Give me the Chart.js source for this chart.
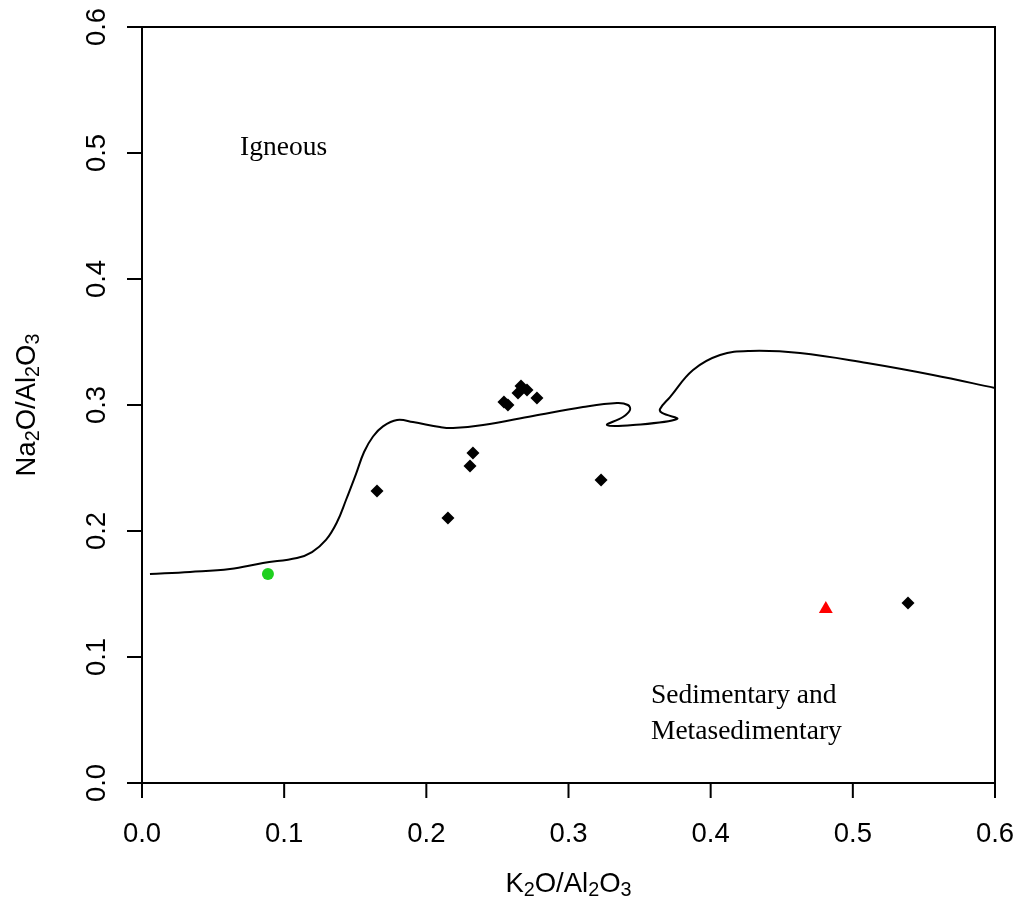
<!DOCTYPE html>
<html>
<head>
<meta charset="utf-8">
<script src="https://cdn.jsdelivr.net/npm/chart.js@4"></script>
<style>
  html, body { margin: 0; padding: 0; background: #fff; }
  #wrap { width: 1020px; height: 915px; }
</style>
</head>
<body>
<div id="wrap"><canvas id="chart" width="1020" height="915"></canvas></div>
<script>
// samples (black diamonds)
const sampleK = [0.2546, 0.2574, 0.2645, 0.2666, 0.2708, 0.2778, 0.2328, 0.2307, 0.2152, 0.1653, 0.3229, 0.5388];
const sampleNa = [0.3024, 0.3000, 0.3095, 0.3151, 0.3119, 0.3056, 0.2619, 0.2516, 0.2103, 0.2317, 0.2405, 0.1429];
// reference points
const triK = [0.481], triNa = [0.138];
const greenK = [0.0886], greenNa = [0.1659];

// boundary line between fields
const lineK = [0.0056, 0.0338, 0.0619, 0.0851, 0.1090, 0.1196, 0.1294, 0.1372, 0.1435, 0.1505, 0.1562, 0.1625,
  0.1695, 0.1794, 0.1906, 0.2096, 0.2188, 0.2399, 0.2750, 0.3102, 0.3341, 0.3418, 0.3432, 0.3383,
  0.3271, 0.3454, 0.3763, 0.3658, 0.3644, 0.3714, 0.3876, 0.4066, 0.4277, 0.4628, 0.5100, 0.5564, 0.6000];
const lineNa = [0.1659, 0.1675, 0.1698, 0.1746, 0.1786, 0.1833, 0.1929, 0.2071, 0.2246, 0.2452, 0.2627, 0.2750,
  0.2830, 0.2881, 0.2865, 0.2825, 0.2817, 0.2841, 0.2913, 0.2984, 0.3016, 0.3000, 0.2960, 0.2905,
  0.2841, 0.2841, 0.2889, 0.2937, 0.2968, 0.3063, 0.3278, 0.3397, 0.3429, 0.3413, 0.3333, 0.3238, 0.3135];

const tickVals = [0.0, 0.1, 0.2, 0.3, 0.4, 0.5, 0.6];
const tickLabels = ['0.0', '0.1', '0.2', '0.3', '0.4', '0.5', '0.6'];

const fieldLabels = [
  { text: 'Igneous', x: 0.069, y: 0.504 },
  { text: 'Sedimentary and', x: 0.358, y: 0.069 },
  { text: 'Metasedimentary', x: 0.358, y: 0.0405 }
];

const zip = (a, b) => a.map((v, i) => ({ x: v, y: b[i] }));

const SANS = '"Liberation Sans", Arial, sans-serif';
const SERIF = '"Liberation Serif", "Times New Roman", serif';

// draws a formula like K2O/Al2O3 with subscripts, returns width
function chemText(ctx, parts, x, y, size, measureOnly) {
  let w = 0;
  parts.forEach(p => {
    const sub = p[1];
    ctx.font = (sub ? size * 0.72 : size) + 'px ' + SANS;
    if (!measureOnly) ctx.fillText(p[0], x + w, y + (sub ? size * 0.25 : 0));
    w += ctx.measureText(p[0]).width;
  });
  return w;
}
const xTitle = [['K', 0], ['2', 1], ['O', 0], ['/', 0], ['Al', 0], ['2', 1], ['O', 0], ['3', 1]];
const yTitle = [['Na', 0], ['2', 1], ['O', 0], ['/', 0], ['Al', 0], ['2', 1], ['O', 0], ['3', 1]];

const decor = {
  id: 'decor',
  afterDraw(chart) {
    const ctx = chart.ctx;
    const a = chart.chartArea;
    const xs = chart.scales.x, ys = chart.scales.y;
    ctx.save();
    // box
    ctx.strokeStyle = '#000';
    ctx.lineWidth = 2;
    ctx.strokeRect(a.left, a.top, a.right - a.left, a.bottom - a.top);
    // tick marks
    ctx.beginPath();
    tickVals.forEach(v => {
      const px = xs.getPixelForValue(v);
      ctx.moveTo(px, a.bottom); ctx.lineTo(px, a.bottom + 15);
      const py = ys.getPixelForValue(v);
      ctx.moveTo(a.left, py); ctx.lineTo(a.left - 15, py);
    });
    ctx.stroke();
    // tick labels
    ctx.fillStyle = '#000';
    ctx.font = '27.5px ' + SANS;
    ctx.textAlign = 'center';
    ctx.textBaseline = 'middle';
    tickVals.forEach((v, i) => {
      ctx.fillText(tickLabels[i], xs.getPixelForValue(v), a.bottom + 51);
      ctx.save();
      ctx.translate(a.left - 45, ys.getPixelForValue(v));
      ctx.rotate(-Math.PI / 2);
      ctx.fillText(tickLabels[i], 0, 0);
      ctx.restore();
    });
    // axis titles
    ctx.textAlign = 'left';
    ctx.textBaseline = 'middle';
    const cx = (a.left + a.right) / 2;
    let w = chemText(ctx, xTitle, 0, 0, 27.5, true);
    chemText(ctx, xTitle, cx - w / 2, 884, 27.5, false);
    const cy = (a.top + a.bottom) / 2;
    w = chemText(ctx, yTitle, 0, 0, 27.5, true);
    ctx.save();
    ctx.translate(27, cy);
    ctx.rotate(-Math.PI / 2);
    chemText(ctx, yTitle, -w / 2, 0, 27.5, false);
    ctx.restore();
    // field labels
    ctx.font = '27.5px ' + SERIF;
    ctx.textAlign = 'left';
    fieldLabels.forEach(l => {
      ctx.fillText(l.text, xs.getPixelForValue(l.x), ys.getPixelForValue(l.y));
    });
    ctx.restore();
  }
};

new Chart(document.getElementById('chart'), {
  type: 'scatter',
  data: {
    datasets: [
      {
        label: 'boundary',
        data: zip(lineK, lineNa),
        showLine: true,
        borderColor: '#000',
        borderWidth: 2,
        pointRadius: 0,
        tension: 0.4,
        fill: false
      },
      {
        label: 'samples',
        data: zip(sampleK, sampleNa),
        pointStyle: 'rectRot',
        pointRadius: 6.5,
        backgroundColor: '#000',
        borderColor: '#000',
        borderWidth: 0
      },
      {
        label: 'triangle',
        data: zip(triK, triNa),
        pointStyle: 'triangle',
        pointRadius: 8,
        backgroundColor: '#ff0000',
        borderColor: '#ff0000',
        borderWidth: 0
      },
      {
        label: 'green',
        data: zip(greenK, greenNa),
        pointStyle: 'circle',
        pointRadius: 6,
        backgroundColor: '#1fd01f',
        borderColor: '#1fd01f',
        borderWidth: 0
      }
    ]
  },
  options: {
    responsive: false,
    animation: false,
    layout: { padding: { left: 0, right: 25, top: 27, bottom: 0 } },
    scales: {
      x: {
        type: 'linear', min: 0, max: 0.6,
        grid: { display: false },
        border: { display: false },
        ticks: { display: false },
        afterFit: s => { s.height = 132; }
      },
      y: {
        type: 'linear', min: 0, max: 0.6,
        grid: { display: false },
        border: { display: false },
        ticks: { display: false },
        afterFit: s => { s.width = 142; }
      }
    },
    plugins: {
      legend: { display: false },
      tooltip: { enabled: false }
    }
  },
  plugins: [decor]
});
</script>
</body>
</html>
